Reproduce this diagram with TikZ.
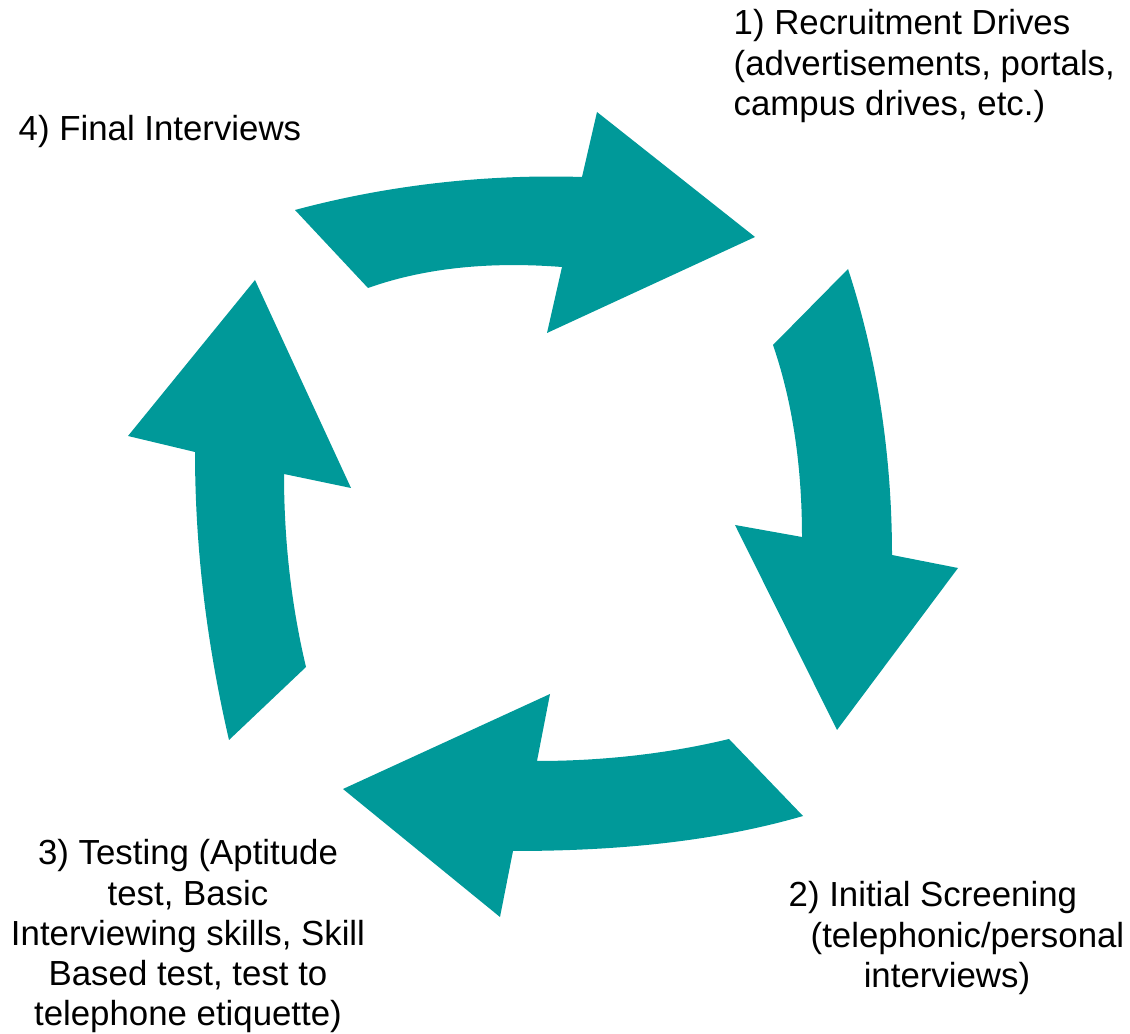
\documentclass[tikz,border=0pt]{standalone}
\usepackage{fontspec}
\setmainfont{Liberation Sans}
\definecolor{cycleteal}{HTML}{009999}
\tikzset{
  cyclearrow/.style={fill=cycleteal, draw=none},
  steplabel/.style={inner sep=0pt, font=\fontsize{9.9}{11.4}\selectfont}
}
\begin{document}
\begin{tikzpicture}[x=0.01cm, y=-0.01cm]
  \useasboundingbox (0,0) rectangle (1130,1034);
  \fill[cyclearrow] (295,210) .. controls (388,185) and (486,174) .. (582,177)
    -- (597,112) -- (755,237) -- (547,333) -- (562,267)
    .. controls (497,262) and (430,266) .. (368,288) -- cycle;
  \fill[cyclearrow] (848,269) .. controls (878,360) and (892,459) .. (892,555)
    -- (958,568) -- (837,730) -- (735,525) -- (802,537)
    .. controls (802,472) and (794,406) .. (773,345) -- cycle;
  \fill[cyclearrow] (803,816) .. controls (710,843) and (610,851) .. (513,851)
    -- (500,917) -- (343,789) -- (550,694) -- (537,761)
    .. controls (601,761) and (667,754) .. (729,739) -- cycle;
  \fill[cyclearrow] (229,740) .. controls (207,645) and (195,549) .. (195,452)
    -- (128,436) -- (255,280) -- (351,488) -- (284,474)
    .. controls (284,539) and (291,604) .. (306,667) -- cycle;
  \draw
    (733,9) node[steplabel, anchor=north west, align=left] (recruit)
      {1) Recruitment Drives\\(advertisements, portals,\\campus drives, etc.)}
    (788,881) node[steplabel, anchor=north west, align=left] (screening)
      {2) Initial Screening\\\hspace*{0.22cm}(telephonic/personal\\\hspace*{0.75cm}interviews)}
    (188,839) node[steplabel, anchor=north, align=center] (testing)
      {3) Testing (Aptitude\\test, Basic\\Interviewing skills, Skill\\Based test, test to\\telephone etiquette)}
    (18,115) node[steplabel, anchor=north west] (final) {4) Final Interviews};
\end{tikzpicture}
\end{document}
